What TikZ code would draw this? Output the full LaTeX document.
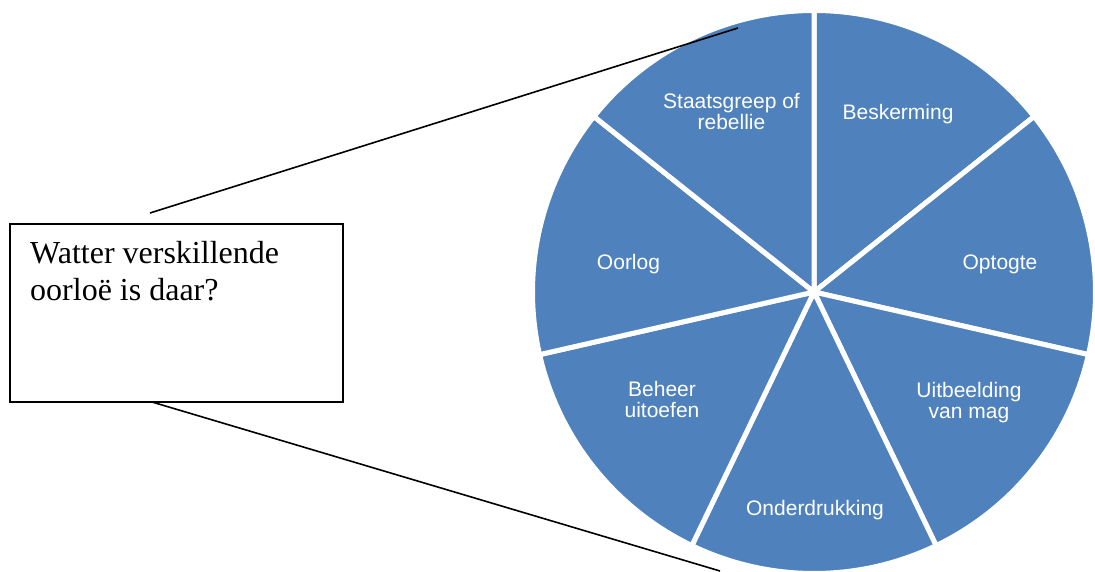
\documentclass[tikz,border=0pt]{standalone}
\usepackage{fontspec}
\setmainfont{Liberation Serif}
\newfontfamily\labelfont{Liberation Sans}
\definecolor{pieblue}{HTML}{4F81BD}
\begin{document}
\begin{tikzpicture}[x=1pt,y=1pt,
  slice/.style={fill=pieblue,draw=white,line width=5pt,line join=round},
  slicelabel/.style={text=white,font=\labelfont\fontsize{21}{21}\selectfont,align=center,inner sep=0pt,anchor=base},
  leader/.style={draw=black,line width=1.6pt},
  questionbox/.style={draw=black,line width=1.5pt,minimum width=333pt,minimum height=178pt,inner sep=0pt}]
\useasboundingbox (0,0) rectangle (1095,571);

% seven equal slices, clockwise from the top
\coordinate (c) at (814,279);
\foreach \k in {0,...,6} {
  \pgfmathsetmacro\sa{90-\k*360/7}
  \pgfmathsetmacro\sb{90-(\k+1)*360/7}
  \path[slice] (c) -- ++(\sa:281.5) arc[start angle=\sa,end angle=\sb,radius=281.5] -- cycle;
}

% slice labels (base = baseline of the last line)
\node[slicelabel] (beskerming) at (898,451) {Beskerming};
\node[slicelabel] (optogte) at (1000,301) {Optogte};
\node[slicelabel] (uitbeelding) at (969,153) {Uitbeelding\\van mag};
\node[slicelabel] (onderdrukking) at (815,56) {Onderdrukking};
\node[slicelabel] (beheer) at (662,154) {Beheer\\uitoefen};
\node[slicelabel] (oorlog) at (628.5,301) {Oorlog};
\node[slicelabel] (staatsgreep) at (731.5,441) {Staatsgreep of\\rebellie};

% question box
\node[questionbox] (box) at (176.5,258) {};
\node[anchor=north west,inner sep=0pt,align=left,font=\fontsize{32}{37}\selectfont] (question) at (30,329.5) {Watter verskillende\\oorloë is daar?};

% leader lines towards the pie
\coordinate (u0) at (150,358);
\coordinate (u1) at (738,543);
\coordinate (l0) at (152,169);
\coordinate (l1) at (720,0);
\draw[leader] (u0) -- (u1);
\draw[leader] (l0) -- (l1);
\end{tikzpicture}
\end{document}
